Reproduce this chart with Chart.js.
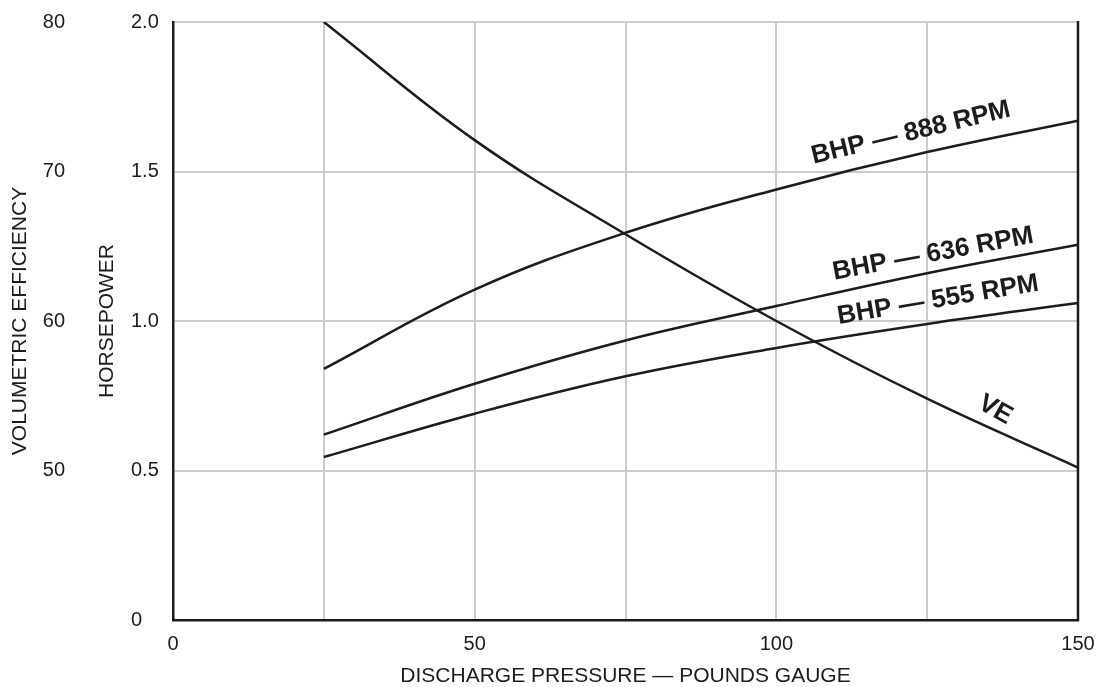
<!DOCTYPE html>
<html>
<head>
<meta charset="utf-8">
<script src="https://cdn.jsdelivr.net/npm/chart.js@4.4.1/dist/chart.umd.min.js"></script>
<style>
  html, body { margin: 0; padding: 0; background: #fff; }
  #wrap { width: 1099px; height: 687px; }
</style>
</head>
<body>
<div id="wrap"><canvas id="c" width="1099" height="687"></canvas></div>
<script>
// Discharge pressure (psig) at which the curves were read
const pressure = [25, 50, 75, 100, 125, 150];
// Brake horsepower at three compressor speeds
const bhp888 = [0.84, 1.105, 1.295, 1.44, 1.565, 1.67];
const bhp636 = [0.62, 0.79, 0.935, 1.05, 1.16, 1.255];
const bhp555 = [0.545, 0.69, 0.815, 0.91, 0.99, 1.06];
// Volumetric efficiency (%)
const volEff = [80, 72.1, 65.8, 60.0, 54.8, 50.2];

const xTickLabels = [0, 50, 100, 150];
const veTickValues = [50, 60, 70, 80];
const curveNames = ['BHP — 888 RPM', 'BHP — 636 RPM', 'BHP — 555 RPM', 'VE'];

const FONT = '"Liberation Sans", Arial, Helvetica, sans-serif';
const INK = '#1c1c1c';
const GRID = '#cbcbcb';

const toPoints = ys => pressure.map((x, i) => ({ x, y: ys[i] }));

// Where each curve name sits: pressure, value on its own axis, rotation (deg)
const labelPlacement = [
  { x: 122.3, y: 1.629, axis: 'hp', angle: -13.5 },
  { x: 126.0, y: 1.224, axis: 'hp', angle: -10.5 },
  { x: 126.8, y: 1.070, axis: 'hp', angle: -9.5 },
  { x: 136.3, y: 54.05, axis: 've', angle: 29 }
];

const curveLabelPlugin = {
  id: 'curveLabels',
  afterDatasetsDraw(chart) {
    const { ctx, scales } = chart;
    ctx.save();
    ctx.fillStyle = INK;
    ctx.font = 'bold 26px ' + FONT;
    ctx.textAlign = 'center';
    ctx.textBaseline = 'middle';
    labelPlacement.forEach((p, i) => {
      const px = scales.x.getPixelForValue(p.x);
      const py = scales[p.axis].getPixelForValue(p.y);
      ctx.save();
      ctx.translate(px, py);
      ctx.rotate(p.angle * Math.PI / 180);
      ctx.fillText(curveNames[i], 0, 0);
      ctx.restore();
    });
    ctx.restore();
  }
};

// Right-hand frame edge
const frameEdgePlugin = {
  id: 'frameEdge',
  beforeDatasetsDraw(chart) {
    const { ctx, chartArea: a } = chart;
    ctx.save();
    ctx.strokeStyle = INK;
    ctx.lineWidth = 2.5;
    ctx.beginPath();
    ctx.moveTo(a.right, a.top - 1);
    ctx.lineTo(a.right, a.bottom + 1);
    ctx.stroke();
    ctx.restore();
  }
};

const lineStyle = {
  borderColor: INK,
  borderWidth: 2.5,
  pointRadius: 0,
  fill: false,
  tension: 0.4
};

// Fix an axis box's size and the overflow it reserves for its end labels
const sizeBox = (w, h, pad) => s => {
  if (w) s.width = w;
  if (h) s.height = h;
  Object.assign(s, pad);
};

new Chart(document.getElementById('c'), {
  type: 'line',
  data: {
    datasets: [
      { label: curveNames[0], data: toPoints(bhp888), yAxisID: 'hp', ...lineStyle },
      { label: curveNames[1], data: toPoints(bhp636), yAxisID: 'hp', ...lineStyle },
      { label: curveNames[2], data: toPoints(bhp555), yAxisID: 'hp', ...lineStyle },
      { label: curveNames[3], data: toPoints(volEff), yAxisID: 've', ...lineStyle }
    ]
  },
  options: {
    responsive: false,
    animation: false,
    devicePixelRatio: 1,
    layout: { padding: { left: 0, right: 0, top: 22, bottom: 0 } },
    plugins: { legend: { display: false }, tooltip: { enabled: false } },
    scales: {
      x: {
        type: 'linear',
        min: 0, max: 150,
        grid: { color: GRID, lineWidth: 2, drawTicks: false },
        border: { color: INK, width: 2.5 },
        afterFit: sizeBox(0, 67, { paddingLeft: 10, paddingRight: 21 }),
        ticks: {
          stepSize: 25,
          autoSkip: false,
          maxRotation: 0,
          padding: 12,
          color: INK,
          font: { family: FONT, size: 20 },
          callback: v => xTickLabels.includes(v) ? String(v) : ''
        },
        title: {
          display: true,
          text: 'DISCHARGE PRESSURE — POUNDS GAUGE',
          color: INK,
          font: { family: FONT, size: 21 },
          padding: { top: 0, bottom: -2 }
        }
      },
      ve: {
        type: 'linear',
        position: 'left',
        weight: 2,
        min: 40, max: 80,
        grid: { display: false, drawTicks: false },
        border: { display: false },
        afterBuildTicks: s => { s.ticks = veTickValues.map(value => ({ value })); },
        afterFit: sizeBox(131, 0, { paddingTop: 11, paddingBottom: 11 }),
        ticks: {
          padding: 66,
          color: INK,
          font: { family: FONT, size: 20 }
        },
        title: {
          display: true,
          text: 'VOLUMETRIC EFFICIENCY',
          color: INK,
          font: { family: FONT, size: 21 },
          padding: { top: 8, bottom: 0 }
        }
      },
      hp: {
        type: 'linear',
        position: 'left',
        weight: 1,
        min: 0, max: 2,
        grid: { color: GRID, lineWidth: 2, drawTicks: false },
        border: { color: INK, width: 2.5 },
        afterFit: sizeBox(42, 0, { paddingTop: 11, paddingBottom: 11 }),
        ticks: {
          stepSize: 0.5,
          padding: 14,
          crossAlign: 'far',
          color: INK,
          font: { family: FONT, size: 20 },
          callback: v => v === 0 ? '0' : v.toFixed(1)
        },
        title: {
          display: true,
          text: 'HORSEPOWER',
          color: INK,
          font: { family: FONT, size: 21 },
          padding: { top: -36, bottom: 0 }
        }
      }
    }
  },
  plugins: [frameEdgePlugin, curveLabelPlugin]
});
</script>
</body>
</html>
